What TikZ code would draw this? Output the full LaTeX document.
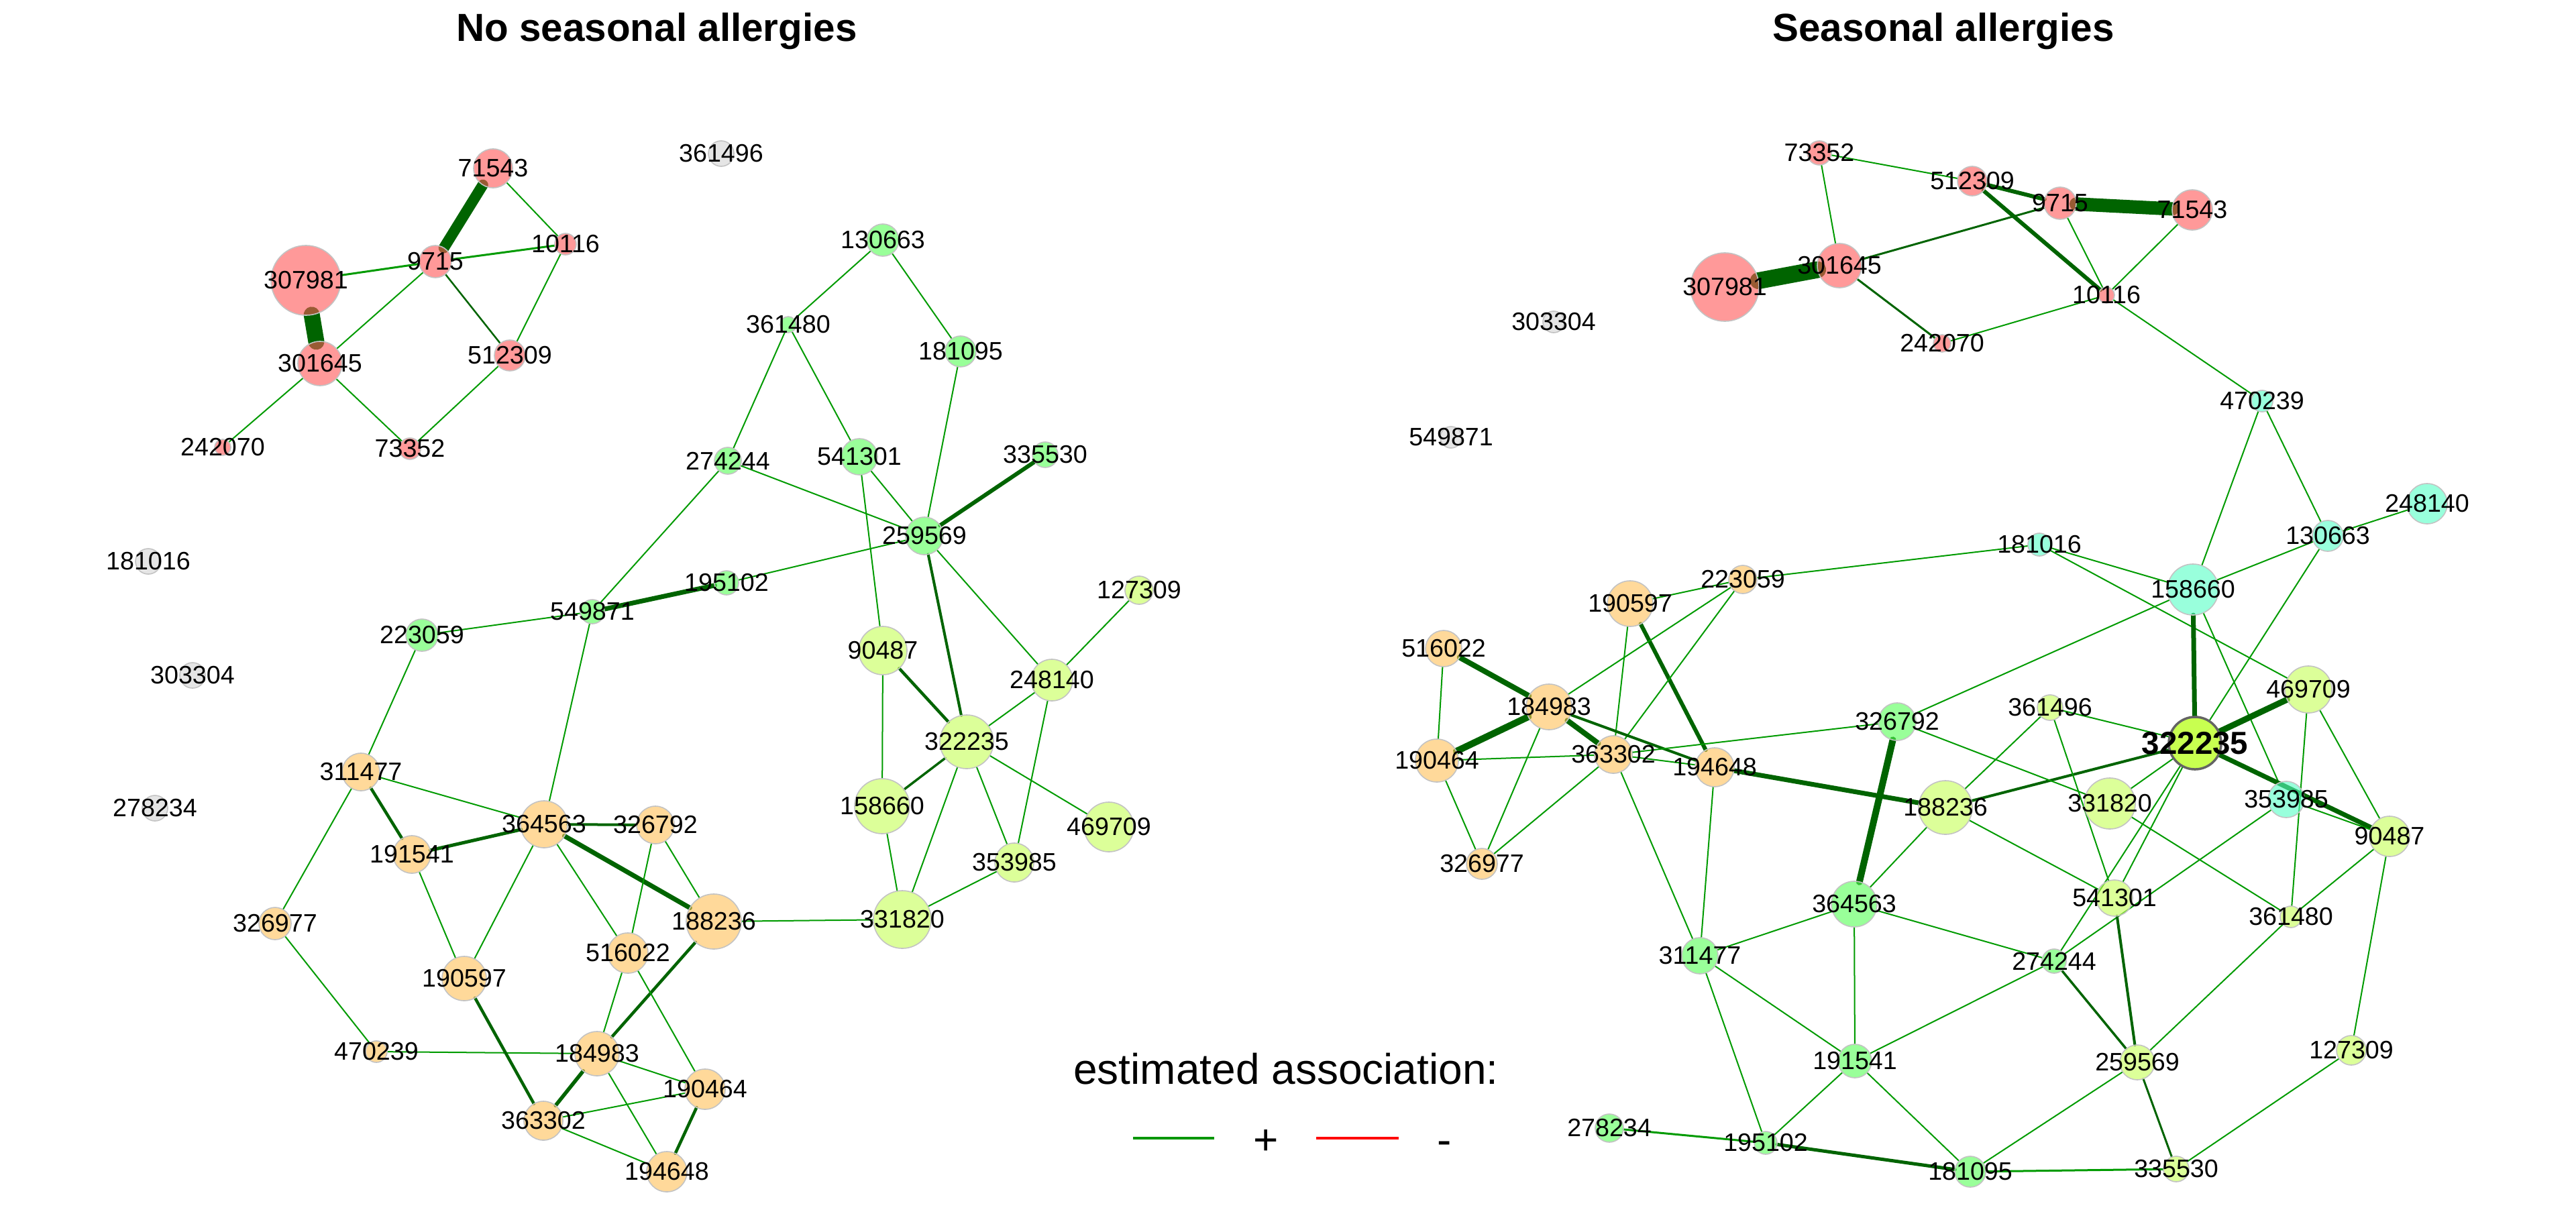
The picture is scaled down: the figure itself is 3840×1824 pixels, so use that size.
\documentclass[tikz,border=0pt]{standalone}
\usepackage{fontspec}
\setmainfont{Liberation Sans}
\pgfdeclarelayer{bg}
\pgfdeclarelayer{edges}
\pgfsetlayers{bg,edges,main}
\definecolor{cpink}{RGB}{255,85,85}
\definecolor{corange}{RGB}{255,193,88}
\definecolor{cgreen}{RGB}{85,255,85}
\definecolor{cyg}{RGB}{198,255,85}
\definecolor{ccyan}{RGB}{85,255,198}
\definecolor{cgray}{RGB}{212,212,212}
\definecolor{chl}{RGB}{200,255,80}
\definecolor{cborder}{RGB}{195,195,195}
\definecolor{ethin}{RGB}{0,155,0}
\definecolor{edark}{RGB}{0,100,0}
\tikzset{
  v/.style={circle, inner sep=0pt, outer sep=0pt, draw=cborder, line width=0.45pt, fill opacity=0.6},
  rad/.style={minimum size={#1*0.02cm}},
  pk/.style={fill=cpink}, og/.style={fill=corange}, gr/.style={fill=cgreen},
  yg/.style={fill=cyg}, cy/.style={fill=ccyan}, gy/.style={fill=cgray},
  hl/.style={fill=chl, fill opacity=1, draw={rgb,255:red,100;green,100;blue,100}, line width=1pt},
  lab/.style={font=\fontsize{10.7}{12}\selectfont, text opacity=1, fill opacity=1, inner sep=0pt, text=black},
  labb/.style={font=\fontsize{13.5}{15}\selectfont\bfseries, text opacity=1, fill opacity=1, inner sep=0pt, text=black},
  ln/.style={line width={#1*0.2845pt}, draw=ethin, line cap=round},
  lnd/.style={line width={#1*0.2845pt}, draw=edark, line cap=round},
  ttl/.style={font=\fontsize{16.6}{20}\selectfont\bfseries, anchor=base, inner sep=0pt},
  leg/.style={font=\fontsize{18.2}{22}\selectfont, anchor=base, inner sep=0pt},
}
\newcommand{\nd}[5]{\node[v,#1,rad=#4,label={[lab]center:#5}] (#2) at (#3) {};}
\begin{document}
\begin{tikzpicture}[x=0.01cm,y=-0.01cm]
\useasboundingbox (0,0) rectangle (3840,1824);
\begin{pgfonlayer}{bg}
\fill[white] (0,0) rectangle (3840,1824);
\end{pgfonlayer}
% titles
\node[ttl] (t1) at (979,61) {No seasonal allergies};
\node[ttl] (t2) at (2897,61) {Seasonal allergies};
% ---------- LEFT NODES ----------
\nd{pk}{a71543}{735,251}{29}{71543}
\nd{pk}{a10116}{843,364}{16}{10116}
\nd{pk}{a9715}{649,390}{24}{9715}
\nd{pk}{a307981}{456,418}{52}{307981}
\nd{pk}{a301645}{477,542}{33}{301645}
\nd{pk}{a512309}{760,530}{23}{512309}
\nd{pk}{a242070}{332,667}{12}{242070}
\nd{pk}{a73352}{611,669}{16}{73352}
\nd{gy}{a361496}{1075,229}{19}{361496}
\nd{gy}{a181016}{221,837}{19}{181016}
\nd{gy}{a303304}{287,1007}{19}{303304}
\nd{gy}{a278234}{231,1205}{19}{278234}
\nd{gr}{a130663}{1316,358}{24}{130663}
\nd{gr}{a361480}{1175,484}{12}{361480}
\nd{gr}{a181095}{1432,524}{23}{181095}
\nd{gr}{a274244}{1085,687}{20}{274244}
\nd{gr}{a541301}{1281,681}{27}{541301}
\nd{gr}{a335530}{1558,678}{19}{335530}
\nd{gr}{a259569}{1378,799}{28}{259569}
\nd{gr}{a195102}{1083,869}{18}{195102}
\nd{gr}{a549871}{883,912}{18}{549871}
\nd{gr}{a223059}{629,947}{24}{223059}
\nd{yg}{a127309}{1698,880}{21}{127309}
\nd{yg}{a90487}{1316,970}{36}{90487}
\nd{yg}{a248140}{1568,1014}{31}{248140}
\nd{yg}{a322235}{1441,1106}{40}{322235}
\nd{yg}{a158660}{1315,1202}{41}{158660}
\nd{yg}{a469709}{1653,1233}{37}{469709}
\nd{yg}{a353985}{1512,1286}{29}{353985}
\nd{yg}{a331820}{1345,1371}{43}{331820}
\nd{og}{a311477}{538,1151}{28}{311477}
\nd{og}{a191541}{614,1274}{28}{191541}
\nd{og}{a364563}{811,1229}{35}{364563}
\nd{og}{a326792}{977,1230}{28}{326792}
\nd{og}{a188236}{1064,1374}{41}{188236}
\nd{og}{a326977}{410,1377}{24}{326977}
\nd{og}{a190597}{692,1459}{33}{190597}
\nd{og}{a516022}{936,1421}{30}{516022}
\nd{og}{a470239}{561,1568}{16}{470239}
\nd{og}{a184983}{890,1571}{33}{184983}
\nd{og}{a190464}{1051,1624}{30}{190464}
\nd{og}{a363302}{810,1671}{29}{363302}
\nd{og}{a194648}{994,1747}{30}{194648}
% ---------- RIGHT NODES ----------
\nd{pk}{b73352}{2712,228}{18}{73352}
\nd{pk}{b512309}{2940,270}{22}{512309}
\nd{pk}{b9715}{3071,303}{24}{9715}
\nd{pk}{b71543}{3268,313}{30}{71543}
\nd{pk}{b10116}{3140,440}{12}{10116}
\nd{pk}{b307981}{2571,428}{51}{307981}
\nd{pk}{b301645}{2742,396}{33}{301645}
\nd{pk}{b242070}{2895,512}{13}{242070}
\nd{gy}{b303304}{2316,480}{16}{303304}
\nd{gy}{b549871}{2163,652}{16}{549871}
\nd{cy}{b470239}{3372,598}{16}{470239}
\nd{cy}{b248140}{3618,751}{30}{248140}
\nd{cy}{b130663}{3470,799}{23}{130663}
\nd{cy}{b181016}{3040,812}{17}{181016}
\nd{cy}{b158660}{3269,879}{38}{158660}
\nd{cy}{b353985}{3408,1192}{27}{353985}
\nd{yg}{b469709}{3441,1028}{35}{469709}
\nd{yg}{b361496}{3056,1055}{19}{361496}
\node[v,hl,rad=39,label={[labb]center:322235}] (b322235) at (3272,1108) {};
\nd{yg}{b331820}{3145,1198}{38}{331820}
\nd{yg}{b90487}{3562,1247}{30}{90487}
\nd{yg}{b188236}{2900,1204}{40}{188236}
\nd{yg}{b541301}{3152,1339}{27}{541301}
\nd{yg}{b361480}{3415,1367}{16}{361480}
\nd{yg}{b127309}{3505,1566}{22}{127309}
\nd{yg}{b259569}{3186,1584}{26}{259569}
\nd{yg}{b335530}{3244,1743}{19}{335530}
\nd{og}{b190597}{2430,900}{34}{190597}
\nd{og}{b223059}{2598,864}{21}{223059}
\nd{og}{b516022}{2152,967}{27}{516022}
\nd{og}{b184983}{2309,1054}{34}{184983}
\nd{og}{b190464}{2142,1134}{32}{190464}
\nd{og}{b363302}{2405,1125}{28}{363302}
\nd{og}{b194648}{2556,1144}{29}{194648}
\nd{og}{b326977}{2209,1288}{23}{326977}
\nd{gr}{b326792}{2828,1076}{28}{326792}
\nd{gr}{b364563}{2764,1348}{34}{364563}
\nd{gr}{b311477}{2534,1425}{27}{311477}
\nd{gr}{b274244}{3062,1433}{18}{274244}
\nd{gr}{b191541}{2765,1582}{25}{191541}
\nd{gr}{b278234}{2399,1682}{21}{278234}
\nd{gr}{b195102}{2632,1704}{17}{195102}
\nd{gr}{b181095}{2937,1747}{23}{181095}
% ---------- LEGEND ----------
\node[leg] (legt) at (1917,1616) {estimated association:};
\coordinate (lg1) at (1689,1697); \coordinate (lg2) at (1810,1697);
\coordinate (lr1) at (1962,1697); \coordinate (lr2) at (2085,1697);
\draw[line width=1.2pt, draw={rgb,255:red,0;green,150;blue,0}] (lg1) -- (lg2);
\draw[line width=1.2pt, red] (lr1) -- (lr2);
\node[leg] (lplus) at (1887,1721) {+};
\node[leg] (lminus) at (2153,1721) {-};
% ---------- EDGES ----------
\begin{pgfonlayer}{edges}
% left pink
\draw[lnd=16] (a71543) -- (a9715);
\draw[ln=2] (a71543) -- (a10116);
\draw[ln=3] (a9715) -- (a10116);
\draw[ln=3] (a9715) -- (a307981);
\draw[ln=2] (a9715) -- (a301645);
\draw[lnd=2.5] (a9715) -- (a512309);
\draw[ln=2] (a10116) -- (a512309);
\draw[lnd=24] (a307981) -- (a301645);
\draw[ln=2] (a301645) -- (a242070);
\draw[ln=2] (a301645) -- (a73352);
\draw[ln=2] (a512309) -- (a73352);
% left green
\draw[ln=2] (a130663) -- (a361480);
\draw[ln=2] (a130663) -- (a181095);
\draw[ln=2] (a361480) -- (a274244);
\draw[ln=2] (a361480) -- (a541301);
\draw[ln=2] (a181095) -- (a259569);
\draw[ln=2] (a274244) -- (a259569);
\draw[ln=2] (a274244) -- (a549871);
\draw[ln=2] (a541301) -- (a259569);
\draw[ln=2] (a541301) -- (a90487);
\draw[lnd=6] (a335530) -- (a259569);
\draw[ln=2] (a259569) -- (a195102);
\draw[lnd=7] (a195102) -- (a549871);
\draw[lnd=4] (a259569) -- (a322235);
\draw[ln=2] (a259569) -- (a248140);
\draw[ln=2] (a127309) -- (a248140);
\draw[ln=2] (a549871) -- (a223059);
\draw[ln=2] (a549871) -- (a364563);
\draw[ln=2] (a223059) -- (a311477);
% left yellow-green
\draw[ln=2] (a90487) -- (a158660);
\draw[lnd=4.5] (a90487) -- (a322235);
\draw[ln=2] (a322235) -- (a248140);
\draw[lnd=3.5] (a322235) -- (a158660);
\draw[ln=2] (a322235) -- (a331820);
\draw[ln=2] (a322235) -- (a353985);
\draw[ln=2] (a322235) -- (a469709);
\draw[ln=2] (a248140) -- (a353985);
\draw[ln=2] (a158660) -- (a331820);
\draw[ln=2] (a353985) -- (a331820);
\draw[ln=2] (a188236) -- (a331820);
% left orange
\draw[ln=2] (a311477) -- (a364563);
\draw[lnd=4.5] (a311477) -- (a191541);
\draw[ln=2] (a311477) -- (a326977);
\draw[lnd=5] (a191541) -- (a364563);
\draw[ln=2] (a191541) -- (a190597);
\draw[lnd=4] (a364563) -- (a326792);
\draw[lnd=7] (a364563) -- (a188236);
\draw[ln=2] (a364563) -- (a190597);
\draw[ln=2] (a364563) -- (a516022);
\draw[ln=2] (a326792) -- (a516022);
\draw[ln=2] (a326792) -- (a188236);
\draw[lnd=4.5] (a188236) -- (a184983);
\draw[ln=2] (a516022) -- (a184983);
\draw[ln=2] (a516022) -- (a190464);
\draw[ln=2] (a326977) -- (a470239);
\draw[ln=2] (a470239) -- (a184983);
\draw[lnd=4.5] (a190597) -- (a363302);
\draw[lnd=5.5] (a184983) -- (a363302);
\draw[ln=2] (a184983) -- (a190464);
\draw[ln=2] (a184983) -- (a194648);
\draw[ln=2] (a363302) -- (a190464);
\draw[ln=2] (a363302) -- (a194648);
\draw[lnd=4.5] (a190464) -- (a194648);
% right pink
\draw[ln=2] (b73352) -- (b512309);
\draw[ln=2] (b73352) -- (b301645);
\draw[lnd=25] (b307981) -- (b301645);
\draw[lnd=3] (b301645) -- (b9715);
\draw[lnd=3] (b301645) -- (b242070);
\draw[lnd=6] (b512309) -- (b9715);
\draw[lnd=6] (b512309) -- (b10116);
\draw[lnd=20] (b9715) -- (b71543);
\draw[ln=2] (b9715) -- (b10116);
\draw[ln=2] (b71543) -- (b10116);
\draw[ln=2] (b10116) -- (b242070);
\draw[ln=2] (b10116) -- (b470239);
% right cyan / yg
\draw[ln=2] (b470239) -- (b158660);
\draw[ln=2] (b470239) -- (b130663);
\draw[ln=2] (b248140) -- (b130663);
\draw[ln=2] (b130663) -- (b158660);
\draw[ln=2] (b130663) -- (b322235);
\draw[ln=2] (b181016) -- (b158660);
\draw[ln=2] (b181016) -- (b469709);
\draw[ln=2] (b181016) -- (b223059);
\draw[lnd=7] (b158660) -- (b322235);
\draw[ln=2] (b158660) -- (b353985);
\draw[ln=2] (b158660) -- (b326792);
\draw[lnd=9] (b322235) -- (b469709);
\draw[lnd=7] (b322235) -- (b90487);
\draw[ln=2] (b322235) -- (b361496);
\draw[lnd=4] (b322235) -- (b188236);
\draw[ln=2] (b322235) -- (b331820);
\draw[ln=2] (b322235) -- (b541301);
\draw[ln=2] (b322235) -- (b274244);
\draw[ln=2] (b361496) -- (b541301);
\draw[ln=2] (b361496) -- (b188236);
\draw[ln=2] (b326792) -- (b331820);
\draw[ln=2] (b469709) -- (b90487);
\draw[ln=2] (b469709) -- (b361480);
\draw[ln=2] (b353985) -- (b90487);
\draw[ln=2] (b353985) -- (b274244);
\draw[ln=2] (b90487) -- (b361480);
\draw[ln=2] (b90487) -- (b127309);
\draw[ln=2] (b331820) -- (b361480);
\draw[ln=2] (b188236) -- (b541301);
\draw[ln=2] (b188236) -- (b364563);
\draw[lnd=7] (b188236) -- (b194648);
\draw[ln=2] (b361480) -- (b259569);
\draw[lnd=4] (b541301) -- (b259569);
% right orange
\draw[ln=2] (b190597) -- (b223059);
\draw[ln=2] (b190597) -- (b363302);
\draw[lnd=6] (b190597) -- (b194648);
\draw[ln=2] (b223059) -- (b184983);
\draw[ln=2] (b223059) -- (b363302);
\draw[lnd=8] (b516022) -- (b184983);
\draw[ln=2] (b516022) -- (b190464);
\draw[lnd=10] (b184983) -- (b190464);
\draw[lnd=8] (b184983) -- (b363302);
\draw[lnd=4] (b184983) -- (b194648);
\draw[ln=2] (b184983) -- (b326977);
\draw[ln=2] (b190464) -- (b363302);
\draw[ln=2] (b190464) -- (b326977);
\draw[ln=2] (b363302) -- (b326977);
\draw[ln=2] (b363302) -- (b194648);
\draw[ln=2] (b363302) -- (b311477);
\draw[ln=2] (b363302) -- (b326792);
\draw[ln=2] (b194648) -- (b311477);
% right green
\draw[lnd=10] (b326792) -- (b364563);
\draw[ln=2] (b364563) -- (b311477);
\draw[ln=2] (b364563) -- (b274244);
\draw[ln=2] (b364563) -- (b191541);
\draw[ln=2] (b311477) -- (b191541);
\draw[ln=2] (b311477) -- (b195102);
\draw[ln=2] (b191541) -- (b274244);
\draw[ln=2] (b191541) -- (b195102);
\draw[ln=2] (b191541) -- (b181095);
\draw[lnd=3.5] (b274244) -- (b259569);
\draw[lnd=3] (b259569) -- (b335530);
\draw[ln=2] (b259569) -- (b181095);
\draw[ln=3] (b278234) -- (b195102);
\draw[lnd=5] (b195102) -- (b181095);
\draw[ln=3] (b181095) -- (b335530);
\draw[ln=2] (b127309) -- (b335530);
\end{pgfonlayer}
\end{tikzpicture}
\end{document}
